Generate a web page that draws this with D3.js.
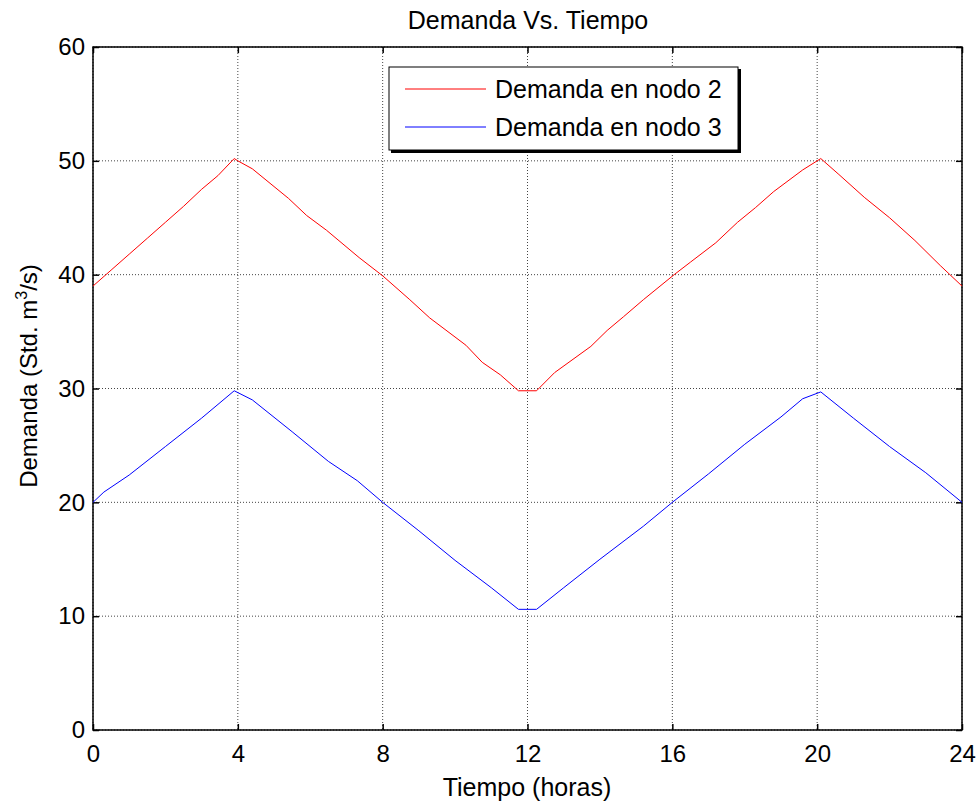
<!DOCTYPE html>
<html>
<head>
<meta charset="utf-8">
<script src="https://cdn.jsdelivr.net/npm/d3@7"></script>
<style>
  body { margin: 0; background: #fff; }
  svg { display: block; font-family: "Liberation Sans", Arial, sans-serif; }
</style>
</head>
<body>
<div id="chart"></div>
<script>
// data
var seriesNames = ["Demanda en nodo 2", "Demanda en nodo 3"];
var seriesColors = ["#ff0000", "#0000ff"];

var tNodo2 = [0, 0.5, 1, 1.5, 2, 2.5, 3, 3.45, 3.9, 4.0, 4.4, 5.4, 5.9, 6.45, 7.35, 8.0, 8.75, 9.3, 10.3, 10.75, 11.25, 11.75, 12.25, 12.75, 13.75, 14.2, 14.65, 15.2, 16.05, 16.5, 17.2, 17.8, 18.3, 18.8, 19.6, 20.1, 20.6, 21.3, 22, 22.7, 23.4, 24];
var vNodo2 = [39.0, 40.4, 41.8, 43.2, 44.6, 46.0, 47.5, 48.7, 50.2, 50.0, 49.3, 46.7, 45.2, 43.9, 41.5, 39.9, 37.8, 36.2, 33.8, 32.3, 31.2, 29.8, 29.8, 31.4, 33.7, 35.1, 36.3, 37.8, 40.0, 41.1, 42.8, 44.6, 45.9, 47.3, 49.2, 50.2, 48.8, 46.8, 45.0, 43.0, 40.8, 39.0];

var tNodo3 = [0, 0.3, 1, 2, 3, 3.9, 4.4, 5.5, 6.5, 7.3, 8, 9, 10, 11, 11.75, 12.25, 13, 14, 15.2, 16, 17, 18, 19, 19.6, 20.1, 21, 22, 23, 24];
var vNodo3 = [20.0, 20.9, 22.4, 24.9, 27.4, 29.8, 29.0, 26.2, 23.6, 21.9, 20.0, 17.5, 14.9, 12.5, 10.6, 10.6, 12.5, 15.0, 17.9, 20.0, 22.5, 25.1, 27.5, 29.1, 29.7, 27.4, 24.9, 22.6, 20.0];

var xTicks = [0, 4, 8, 12, 16, 20, 24];
var yTicks = [0, 10, 20, 30, 40, 50, 60];

// set the dimensions and margins of the graph
var margin = {top: 47, right: 18, bottom: 78, left: 93},
    width = 980 - margin.left - margin.right,
    height = 808 - margin.top - margin.bottom;

var svg = d3.select("#chart")
  .append("svg")
    .attr("width", 980)
    .attr("height", 808);

var g = svg.append("g")
    .attr("transform", "translate(" + margin.left + "," + margin.top + ")");

var x = d3.scaleLinear().domain([0, 24]).range([0, width]);
var y = d3.scaleLinear().domain([0, 60]).range([height, 0]);

// grid
g.append("g")
  .selectAll("line")
  .data(xTicks)
  .enter()
  .append("line")
    .attr("x1", function(d) { return x(d); })
    .attr("x2", function(d) { return x(d); })
    .attr("y1", 0)
    .attr("y2", height)
    .attr("stroke", "#444")
    .attr("stroke-width", 1)
    .attr("stroke-dasharray", "1,2");

g.append("g")
  .selectAll("line")
  .data(yTicks)
  .enter()
  .append("line")
    .attr("x1", 0)
    .attr("x2", width)
    .attr("y1", function(d) { return y(d); })
    .attr("y2", function(d) { return y(d); })
    .attr("stroke", "#444")
    .attr("stroke-width", 1)
    .attr("stroke-dasharray", "1,2");

// axes (matlab style, ticks inward)
function styleAxis(sel) {
  sel.select(".domain").remove();
  sel.selectAll(".tick line").attr("stroke", "#000").attr("stroke-width", 1.5);
  sel.selectAll("text")
    .attr("fill", "#000")
    .style("font-size", "24px")
    .style("font-family", "Liberation Sans, Arial, sans-serif");
}

g.append("g")
  .attr("transform", "translate(0," + height + ")")
  .call(d3.axisBottom(x).tickValues(xTicks).tickSize(-6).tickPadding(15).tickFormat(d3.format("d")))
  .call(styleAxis);

g.append("g")
  .call(d3.axisTop(x).tickValues(xTicks).tickSize(-6).tickFormat(""))
  .call(styleAxis);

g.append("g")
  .call(d3.axisLeft(y).tickValues(yTicks).tickSize(-6).tickPadding(8).tickFormat(d3.format("d")))
  .call(styleAxis);

g.append("g")
  .attr("transform", "translate(" + width + ",0)")
  .call(d3.axisRight(y).tickValues(yTicks).tickSize(-6).tickFormat(""))
  .call(styleAxis);

// box
g.append("rect")
  .attr("x", 0)
  .attr("y", 0)
  .attr("width", width)
  .attr("height", height)
  .attr("fill", "none")
  .attr("stroke", "#000")
  .attr("stroke-width", 1.5);

// lines
var line = d3.line()
  .x(function(d) { return x(d[0]); })
  .y(function(d) { return y(d[1]); });

var allSeries = [d3.zip(tNodo2, vNodo2), d3.zip(tNodo3, vNodo3)];

g.selectAll("path.series")
  .data(allSeries)
  .enter()
  .append("path")
    .attr("class", "series")
    .attr("d", line)
    .attr("fill", "none")
    .attr("stroke", function(d, i) { return seriesColors[i]; })
    .attr("stroke-width", 1);

// legend
var legend = svg.append("g").attr("transform", "translate(389,67)");
legend.append("rect")
  .attr("x", 2).attr("y", 2)
  .attr("width", 350).attr("height", 84)
  .attr("fill", "#000");
legend.append("rect")
  .attr("x", 0).attr("y", 0)
  .attr("width", 349).attr("height", 83)
  .attr("fill", "#fff")
  .attr("stroke", "#000")
  .attr("stroke-width", 1);

var items = legend.selectAll("g.item")
  .data(seriesNames)
  .enter()
  .append("g")
    .attr("transform", function(d, i) { return "translate(0," + (22 + i * 38) + ")"; });
items.append("line")
  .attr("x1", 16).attr("x2", 97)
  .attr("y1", 0).attr("y2", 0)
  .attr("stroke", function(d, i) { return seriesColors[i]; })
  .attr("stroke-width", 1);
items.append("text")
  .attr("x", 106)
  .attr("y", 9)
  .style("font-size", "25px")
  .text(function(d) { return d; });

// title and labels
svg.append("text")
  .attr("x", 528)
  .attr("y", 29)
  .attr("text-anchor", "middle")
  .style("font-size", "25px")
  .text("Demanda Vs. Tiempo");

svg.append("text")
  .attr("x", 527)
  .attr("y", 796)
  .attr("text-anchor", "middle")
  .style("font-size", "25px")
  .text("Tiempo (horas)");

var yl = svg.append("text")
  .attr("transform", "translate(37,376) rotate(-90)")
  .attr("text-anchor", "middle")
  .style("font-size", "24px");
yl.append("tspan").text("Demanda (Std. m");
yl.append("tspan").attr("dy", -10).style("font-size", "16px").text("3");
yl.append("tspan").attr("dy", 10).text("/s)");
</script>
</body>
</html>
